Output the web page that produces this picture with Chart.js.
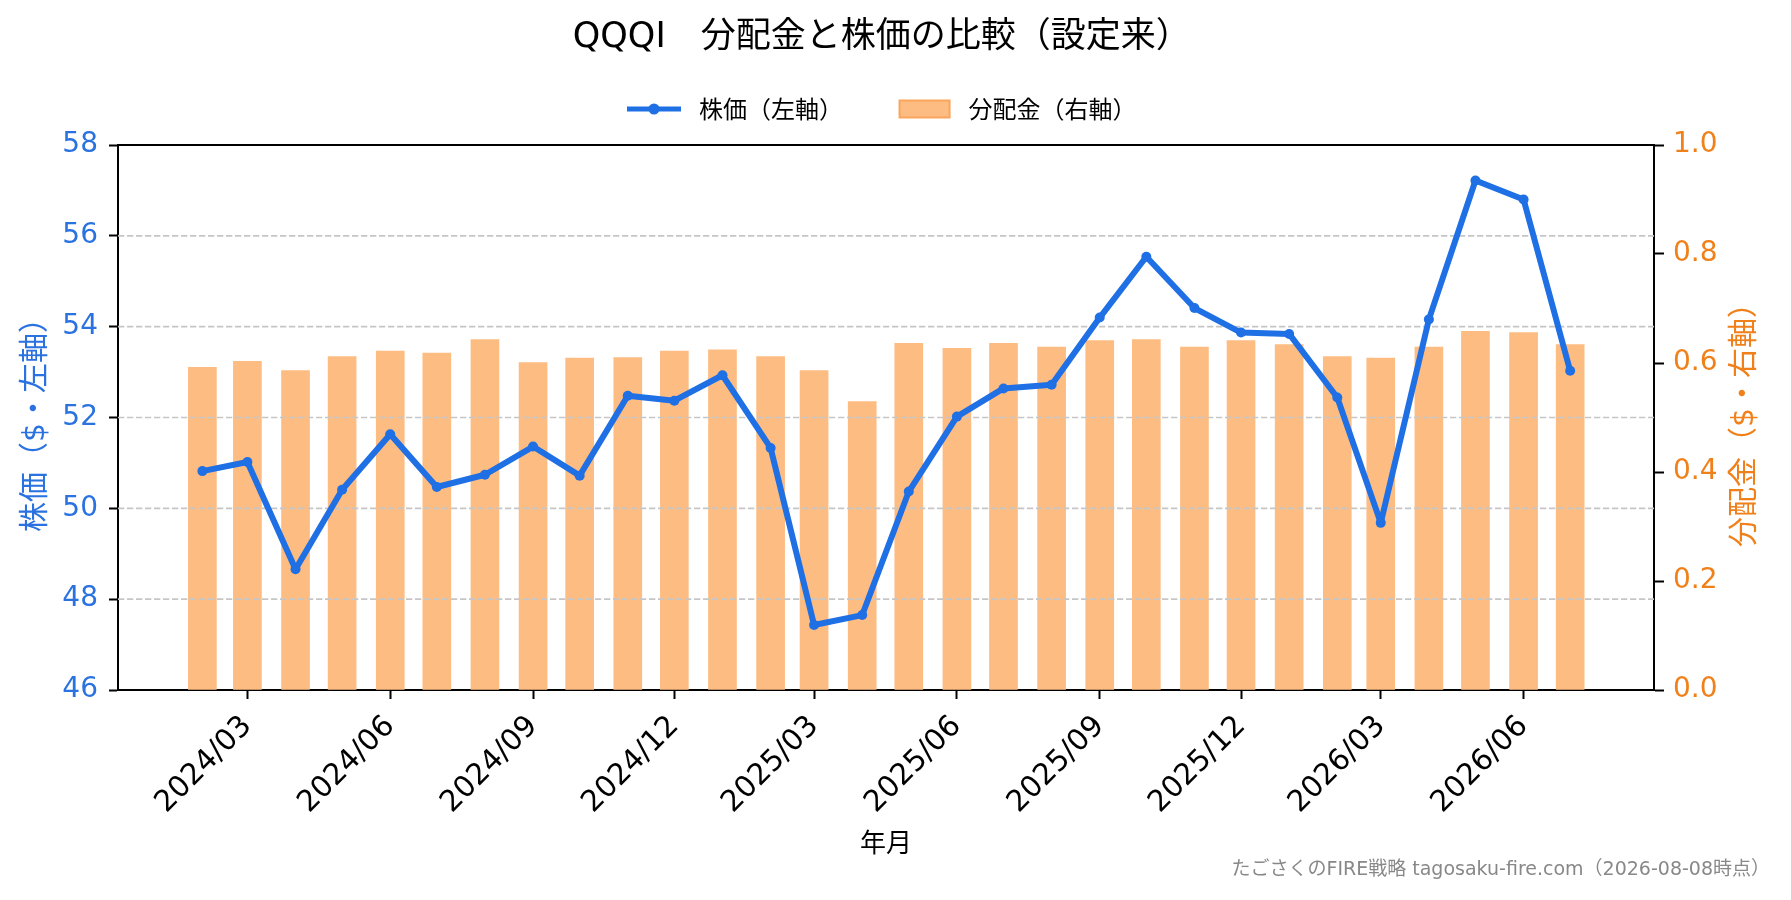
<!DOCTYPE html>
<html lang="ja">
<head>
<meta charset="utf-8">
<title>QQQI 分配金と株価の比較（設定来）</title>
<script src="https://cdn.jsdelivr.net/npm/chart.js@4.4.1/dist/chart.umd.min.js"></script>
<style>
  html, body { margin: 0; padding: 0; background: #fff; }
  #wrap { width: 1791px; height: 900px; position: relative; }
</style>
</head>
<body>
<div id="wrap"><canvas id="chart"></canvas></div>
<script>
// monthly points, Feb 2024 .. Jul 2026
const months = [
  '2024-02', '2024-03', '2024-04', '2024-05', '2024-06', '2024-07', '2024-08', '2024-09', '2024-10', '2024-11', '2024-12',
  '2025-01', '2025-02', '2025-03', '2025-04', '2025-05', '2025-06', '2025-07', '2025-08', '2025-09', '2025-10', '2025-11', '2025-12',
  '2026-01', '2026-02', '2026-03', '2026-04', '2026-05', '2026-06', '2026-07'
];
const prices = [
  50.82, 51.02, 48.66, 50.41, 51.63, 50.47, 50.74, 51.36, 50.72, 52.48, 52.37,
  52.93, 51.33, 47.43, 47.65, 50.37, 52.02, 52.64, 52.72, 54.20, 55.54, 54.41, 53.87,
  53.84, 52.44, 49.68, 54.16, 57.22, 56.80, 53.03
];
const distributions = [
  0.592, 0.603, 0.586, 0.612, 0.622, 0.618, 0.643, 0.601, 0.609, 0.610, 0.622,
  0.624, 0.612, 0.586, 0.529, 0.636, 0.627, 0.636, 0.629, 0.641, 0.643, 0.629, 0.641,
  0.634, 0.612, 0.609, 0.629, 0.658, 0.656, 0.634
];
const xTickLabels = ['2024/03', '2024/06', '2024/09', '2024/12', '2025/03', '2025/06', '2025/09', '2025/12', '2026/03', '2026/06'];
const xRange = ['2023-12-08T15:36:00Z', '2026-08-24T00:00:00Z'];
const priceAxis = [46, 58, 2];
const distAxis = [0, 1, 0.2];

const BLUE = '#1f6fe5';
const BLUE_TEXT = '#2a72e0';
const ORANGE_TEXT = '#f0801a';
const BAR = '#fdbc82';
const BAR_EDGE = '#fba55c';

Chart.defaults.font.family = "'DejaVu Sans', 'Noto Sans CJK JP', sans-serif";

// days since epoch, so the x axis is a plain linear scale
const toDay = s => Date.parse(s.length === 7 ? s + '-01T00:00:00Z' : s) / 864e5;

const priceData = months.map((m, i) => ({ x: toDay(m), y: prices[i] }));
const distData = months.map((m, i) => ({ x: toDay(m), y: distributions[i] }));
const xTickValues = xTickLabels.map(l => toDay(l.replace('/', '-')));

function legendIcon(draw) {
  const c = document.createElement('canvas');
  c.width = 60;
  c.height = 24;
  draw(c.getContext('2d'));
  return c;
}
const lineIcon = legendIcon(ctx => {
  ctx.strokeStyle = BLUE;
  ctx.lineWidth = 5;
  ctx.beginPath();
  ctx.moveTo(0, 12);
  ctx.lineTo(54, 12);
  ctx.stroke();
  ctx.fillStyle = BLUE;
  ctx.beginPath();
  ctx.arc(27, 12, 5.5, 0, Math.PI * 2);
  ctx.fill();
});
const barIcon = legendIcon(ctx => {
  ctx.fillStyle = BAR;
  ctx.fillRect(3, 3.5, 50, 17);
  ctx.strokeStyle = BAR_EDGE;
  ctx.lineWidth = 2;
  ctx.strokeRect(3, 3.5, 50, 17);
});

// legend sits a little above the plot, make its box taller
const legendGap = {
  id: 'legendGap',
  beforeInit(chart) {
    const fit = chart.legend.fit;
    chart.legend.fit = function () {
      fit.call(this);
      this.height = 101.5;
    };
  }
};

// dashed price grid goes over the bars but under the line
const dashedGrid = {
  id: 'dashedGrid',
  afterDatasetDraw(chart, args) {
    if (args.meta.type !== 'bar') return;
    const { ctx, chartArea } = chart;
    const y = chart.scales.y;
    ctx.save();
    ctx.strokeStyle = '#c6c6c6';
    ctx.lineWidth = 1.6;
    ctx.setLineDash([6.3, 2.7]);
    y.ticks.forEach(t => {
      if (t.value <= y.min || t.value >= y.max) return;
      const py = y.getPixelForValue(t.value);
      ctx.beginPath();
      ctx.moveTo(chartArea.left, py);
      ctx.lineTo(chartArea.right, py);
      ctx.stroke();
    });
    ctx.restore();
  }
};

const frameAndNotes = {
  id: 'frameAndNotes',
  afterDraw(chart) {
    const { ctx, chartArea } = chart;
    const y1 = chart.scales.y1;
    ctx.save();
    ctx.strokeStyle = '#000';
    ctx.lineWidth = 2;
    ctx.beginPath();
    ctx.moveTo(chartArea.left - 1, chartArea.top);
    ctx.lineTo(chartArea.right + 1, chartArea.top);
    ctx.stroke();

    // right axis title reads bottom to top
    ctx.save();
    ctx.translate(y1.right - 18, (chartArea.top + chartArea.bottom) / 2);
    ctx.rotate(-Math.PI / 2);
    ctx.fillStyle = ORANGE_TEXT;
    ctx.font = "30px 'DejaVu Sans', 'Noto Sans CJK JP', sans-serif";
    ctx.textAlign = 'center';
    ctx.textBaseline = 'middle';
    ctx.fillText('分配金（$・右軸）', 0, 0);
    ctx.restore();

    ctx.fillStyle = '#888';
    ctx.font = "19px 'DejaVu Sans', 'Noto Sans CJK JP', sans-serif";
    ctx.textAlign = 'right';
    ctx.textBaseline = 'middle';
    ctx.fillText('たごさくのFIRE戦略 tagosaku-fire.com（2026-08-08時点）', chart.width - 21, 870);
    ctx.restore();
  }
};

new Chart(document.getElementById('chart'), {
  type: 'bar',
  data: {
    datasets: [{
      type: 'line',
      label: '株価（左軸）',
      data: priceData,
      xAxisID: 'x',
      yAxisID: 'y',
      order: 0,
      borderColor: BLUE,
      backgroundColor: BLUE,
      borderWidth: 6,
      borderJoinStyle: 'round',
      borderCapStyle: 'round',
      pointRadius: 5,
      pointHoverRadius: 5,
      pointBorderWidth: 0,
      pointBackgroundColor: BLUE,
      tension: 0,
      fill: false
    }, {
      type: 'bar',
      label: '分配金（右軸）',
      data: distData,
      xAxisID: 'x',
      yAxisID: 'y1',
      order: 1,
      backgroundColor: BAR,
      borderWidth: 0,
      barThickness: 28
    }]
  },
  options: {
    responsive: true,
    maintainAspectRatio: false,
    animation: false,
    layout: { padding: { left: 0, right: 27.5, top: 0, bottom: 0 } },
    plugins: {
      tooltip: { enabled: false },
      title: {
        display: true,
        text: 'QQQI　分配金と株価の比較（設定来）',
        color: '#000',
        font: { size: 35, weight: 'normal' },
        padding: { top: 17, bottom: -15.5 }
      },
      legend: {
        labels: {
          usePointStyle: true,
          pointStyleWidth: 60,
          padding: 53.5,
          color: '#000',
          font: { size: 24, family: "'Noto Sans CJK JP', sans-serif" },
          generateLabels: () => [
            { text: '株価（左軸）', pointStyle: lineIcon, fillStyle: BLUE, strokeStyle: BLUE, lineWidth: 0, hidden: false, datasetIndex: 0 },
            { text: '分配金（右軸）', pointStyle: barIcon, fillStyle: BAR, strokeStyle: BAR_EDGE, lineWidth: 0, hidden: false, datasetIndex: 1 }
          ]
        }
      }
    },
    scales: {
      x: {
        type: 'linear',
        min: toDay(xRange[0]),
        max: toDay(xRange[1]),
        offset: false,
        afterBuildTicks: axis => { axis.ticks = xTickValues.map(v => ({ value: v })); },
        afterFit: axis => { axis.height = 210; },
        ticks: {
          autoSkip: false,
          minRotation: 45,
          maxRotation: 45,
          padding: 10,
          color: '#000',
          font: { size: 29.5 },
          callback: (v, i) => xTickLabels[i]
        },
        grid: { drawOnChartArea: false, offset: false, tickLength: 9, tickWidth: 2, tickColor: '#000' },
        border: { color: '#000', width: 2 },
        title: { display: true, text: '年月', color: '#000', font: { size: 26 }, padding: { top: 0, bottom: 39 } }
      },
      y: {
        position: 'left',
        min: priceAxis[0],
        max: priceAxis[1],
        beginAtZero: false,
        afterFit: axis => { axis.width = 118; },
        ticks: { stepSize: priceAxis[2], color: BLUE_TEXT, font: { size: 28 }, padding: 11 },
        grid: { drawOnChartArea: false, tickLength: 9, tickWidth: 2, tickColor: '#000' },
        border: { color: '#000', width: 2 },
        title: { display: true, text: '株価（$・左軸）', color: BLUE_TEXT, font: { size: 30 }, padding: { top: 18, bottom: 0 } }
      },
      y1: {
        position: 'right',
        min: distAxis[0],
        max: distAxis[1],
        afterFit: axis => { axis.width = 109.5; },
        ticks: { stepSize: distAxis[2], color: ORANGE_TEXT, font: { size: 28 }, padding: 9, callback: v => v.toFixed(1) },
        grid: { drawOnChartArea: false, tickLength: 10, tickWidth: 2, tickColor: '#000' },
        border: { color: '#000', width: 2 }
      }
    }
  },
  plugins: [legendGap, dashedGrid, frameAndNotes]
});
</script>
</body>
</html>
